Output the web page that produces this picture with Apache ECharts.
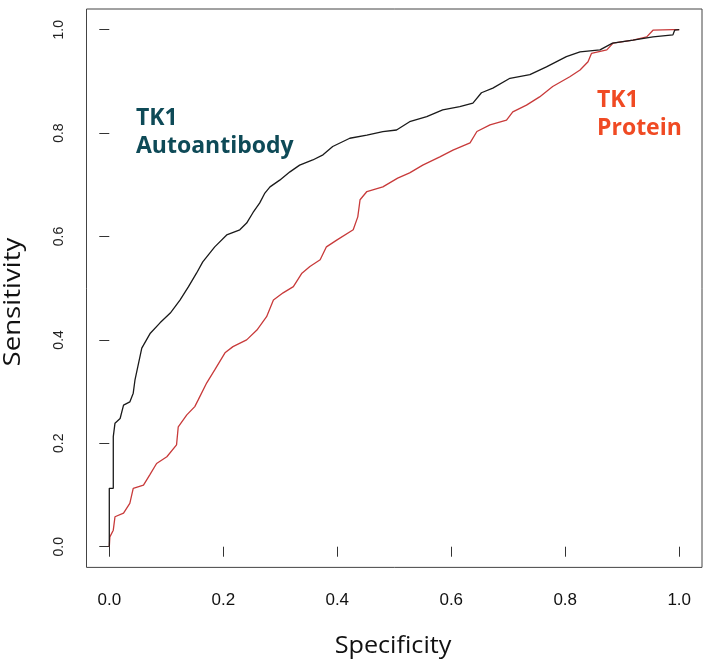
<!DOCTYPE html>
<html>
<head>
<meta charset="utf-8">
<script src="https://cdn.jsdelivr.net/npm/echarts@6/dist/echarts.min.js"></script>
<style>
html,body{margin:0;padding:0;background:#fff;}
#chart{width:709px;height:665px;}
</style>
</head>
<body>
<div id="chart"></div>
<script>
// Tick labels
const xTicks = [0, 0.2, 0.4, 0.6, 0.8, 1.0];
const yTicks = [0, 0.2, 0.4, 0.6, 0.8, 1.0];

// TK1 Autoantibody ROC curve
const autoSpec = [0,0,0.007,0.007,0.010,0.019,0.025,0.036,0.042,0.045,0.057,0.072,0.089,0.107,0.124,0.139,0.153,0.164,0.185,0.206,0.229,0.241,0.252,0.264,0.273,0.282,0.299,0.317,0.334,0.357,0.375,0.392,0.422,0.452,0.480,0.504,0.527,0.557,0.585,0.615,0.638,0.653,0.673,0.703,0.738,0.767,0.802,0.826,0.861,0.883,0.919,0.954,0.989,0.992,1];
const autoSens = [0,0.113,0.113,0.213,0.239,0.248,0.274,0.280,0.297,0.322,0.384,0.413,0.433,0.452,0.477,0.503,0.529,0.551,0.580,0.603,0.613,0.626,0.646,0.665,0.684,0.696,0.709,0.725,0.738,0.748,0.758,0.774,0.790,0.796,0.803,0.806,0.822,0.832,0.845,0.851,0.858,0.878,0.887,0.906,0.913,0.928,0.948,0.957,0.961,0.974,0.980,0.986,0.990,0.999,1];

// TK1 Protein ROC curve
const protSpec = [0,0.001,0.007,0.010,0.025,0.036,0.042,0.060,0.071,0.083,0.101,0.118,0.121,0.136,0.150,0.156,0.171,0.185,0.203,0.217,0.241,0.259,0.276,0.288,0.305,0.323,0.338,0.352,0.370,0.381,0.399,0.428,0.436,0.440,0.452,0.480,0.506,0.527,0.550,0.580,0.603,0.633,0.645,0.668,0.697,0.708,0.732,0.755,0.778,0.808,0.826,0.840,0.846,0.873,0.884,0.919,0.943,0.954,0.989,1];
const protSens = [0,0.019,0.032,0.058,0.065,0.084,0.113,0.119,0.139,0.161,0.174,0.197,0.232,0.255,0.271,0.284,0.317,0.342,0.375,0.387,0.400,0.419,0.445,0.477,0.491,0.503,0.529,0.542,0.555,0.580,0.593,0.613,0.638,0.671,0.687,0.696,0.713,0.723,0.738,0.754,0.767,0.781,0.803,0.816,0.825,0.841,0.854,0.870,0.890,0.909,0.922,0.938,0.954,0.961,0.974,0.980,0.986,0.999,1.0,1];

const zip = (a, b) => a.map((v, i) => [v, b[i]]);

const chart = echarts.init(document.getElementById('chart'), null, {renderer: 'canvas'});
chart.setOption({
  animation: false,
  backgroundColor: '#ffffff',
  grid: {left: 86.5, right: 7, top: 9, bottom: 97.6, show: true, borderColor: '#444', borderWidth: 1},
  xAxis: {
    type: 'value', min: -0.04, max: 1.04,
    axisLine: {show: false}, splitLine: {show: false},
    axisTick: {show: true, length: 10, customValues: xTicks, lineStyle: {color: '#333'}},
    axisLabel: {customValues: xTicks, formatter: v => v.toFixed(1), margin: 24, fontSize: 17, fontFamily: 'Liberation Sans', color: '#111'}
  },
  yAxis: {
    type: 'value', min: -0.04, max: 1.04,
    axisLine: {show: false}, splitLine: {show: false},
    axisTick: {show: true, length: 10, customValues: yTicks, lineStyle: {color: '#333'}},
    axisLabel: {customValues: yTicks, rotate: 90, formatter: v => v.toFixed(1), margin: 20, fontSize: 14, fontFamily: 'Liberation Sans', color: '#222'}
  },
  series: [
    {name: 'TK1 Protein', type: 'line', data: zip(protSpec, protSens), symbol: 'none', lineStyle: {color: '#c83a3a', width: 1.3}},
    {name: 'TK1 Autoantibody', type: 'line', data: zip(autoSpec, autoSens), symbol: 'none', lineStyle: {color: '#1a1a1a', width: 1.3}}
  ],
  graphic: [
    {type: 'text', x: 136, y: 104, style: {text: 'TK1\nAutoantibody', fontSize: 23, fontWeight: 'bold', fontFamily: 'Open Sans', fill: '#0e4a57', lineHeight: 28, verticalAlign: 'top', align: 'left'}},
    {type: 'text', x: 597, y: 86, style: {text: 'TK1\nProtein', fontSize: 23, fontWeight: 'bold', fontFamily: 'Open Sans', fill: '#f04a23', lineHeight: 28, verticalAlign: 'top', align: 'left'}},
    {type: 'text', x: 393, y: 646, scaleX: 1.05, style: {text: 'Specificity', fontSize: 24, fontFamily: 'Open Sans', fill: '#111', align: 'center', verticalAlign: 'middle'}},
    {type: 'text', x: 12.7, y: 302, rotation: Math.PI / 2, scaleX: 1.15, style: {text: 'Sensitivity', fontSize: 24, fontFamily: 'Open Sans', fill: '#111', align: 'center', verticalAlign: 'middle'}}
  ]
});
</script>
</body>
</html>
